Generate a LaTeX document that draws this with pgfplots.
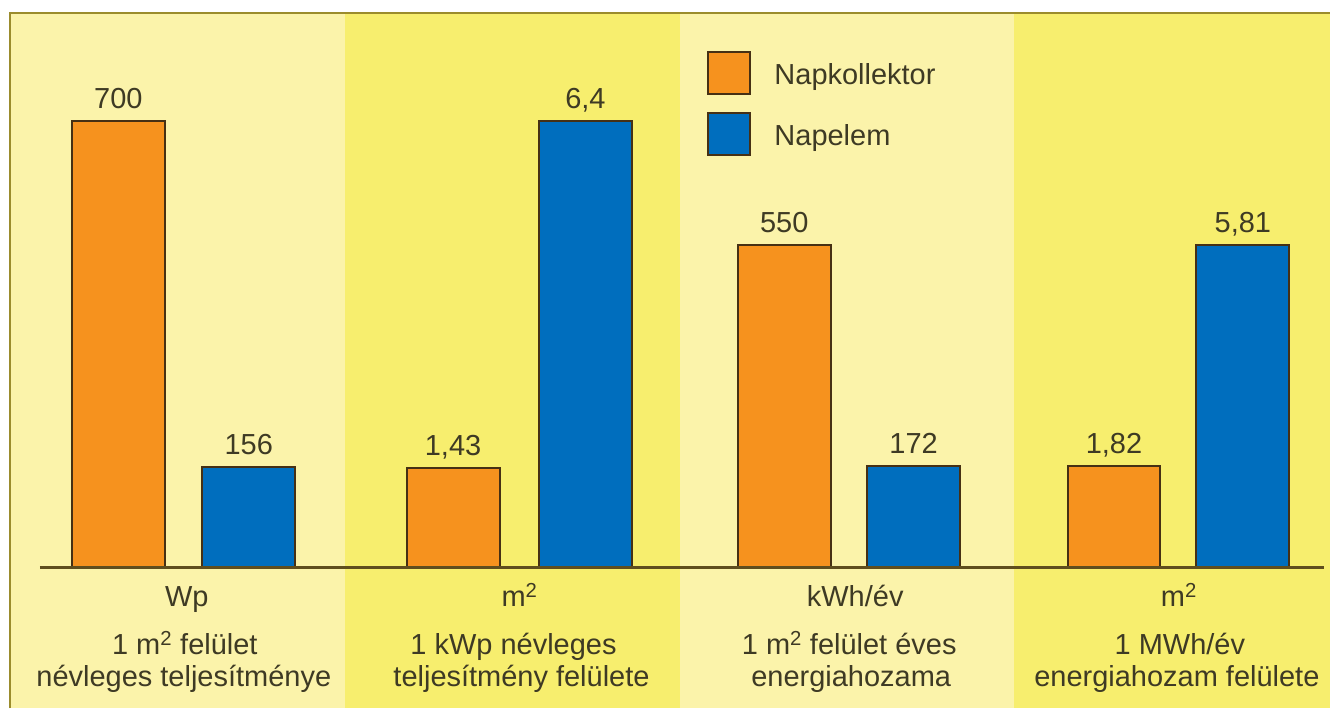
\documentclass[border=0pt]{standalone}
\usepackage{fontspec}
\setmainfont{Liberation Sans}
\usepackage{pgfplots}
\pgfplotsset{compat=1.18}
\usepackage{pgfplotstable}

\definecolor{orangeC}{RGB}{246,146,30}
\definecolor{blueC}{RGB}{0,110,190}
\definecolor{edgeC}{RGB}{70,48,20}
\definecolor{textC}{RGB}{62,58,36}
\definecolor{baseC}{RGB}{95,78,30}
\definecolor{frameC}{RGB}{155,140,45}
\definecolor{lightY}{RGB}{251,243,170}
\definecolor{brightY}{RGB}{247,238,110}

\newcommand\lbl{\fontsize{29}{34}\selectfont}

\pgfplotsset{
  sqlegend/.style={legend image code/.code={%
    \draw[#1, line width=2pt] (0pt,-19pt) rectangle (42pt,23pt);}},
}

% bar heights are drawn per group (each group has its own unit)
\pgfplotstableread{
x h lab
118.5 447 700
453.5 100 1,43
785 323 550
1115 102 1,82
}\kollektor
\pgfplotstableread{
x h lab
249 101 156
586 447 6,4
914.5 102 172
1244 323 5,81
}\napelem

\begin{document}
\begin{tikzpicture}
\begin{axis}[
  at={(0,0)}, anchor=south west,
  scale only axis, width=1331pt, height=709pt,
  xmin=0, xmax=1331, ymin=-141, ymax=568,
  hide axis, clip=false,
  ybar, bar width=93,
  point meta=explicit symbolic,
  nodes near coords={\pgfplotspointmeta},
  every node near coord/.append style={anchor=base, yshift=12pt, font=\lbl, text=textC, inner sep=0pt},
  legend style={at={(axis cs:707,517)}, anchor=north west, draw=none, fill=none,
    inner sep=0pt, row sep=17pt, font=\lbl, text=textC,
    /tikz/every odd column/.append style={column sep=22pt}},
  legend cell align=left,
]
\fill[white] (axis cs:0,-141) rectangle (axis cs:1331,568);
\fill[lightY] (axis cs:10,-141) rectangle (axis cs:345,555);
\fill[brightY] (axis cs:345,-141) rectangle (axis cs:681,555);
\fill[lightY] (axis cs:681,-141) rectangle (axis cs:1015,555);
\fill[brightY] (axis cs:1015,-141) rectangle (axis cs:1331,555);
\draw[frameC, line width=2.5pt] (axis cs:10,-141) -- (axis cs:10,555) -- (axis cs:1331,555);

\addplot[fill=orangeC, draw=edgeC, line width=2pt, bar shift=0pt, sqlegend]
  table[x=x, y=h, meta=lab] {\kollektor};
\addplot[fill=blueC, draw=edgeC, line width=2pt, bar shift=0pt, sqlegend]
  table[x=x, y=h, meta=lab] {\napelem};
\legend{Napkollektor, Napelem}

\draw[baseC, line width=3pt] (axis cs:40,0) -- (axis cs:1325,0);

\begin{scope}[every node/.style={anchor=base, font=\lbl, text=textC, inner sep=0pt}]
\node at (axis cs:187,-39) {Wp};
\node at (axis cs:185,-87) {1 m\textsuperscript{2} felület};
\node at (axis cs:184,-119) {névleges teljesítménye};
\node at (axis cs:520,-39) {m\textsuperscript{2}};
\node at (axis cs:514,-87) {1 kWp névleges};
\node at (axis cs:522,-119) {teljesítmény felülete};
\node at (axis cs:856,-39) {kWh/év};
\node at (axis cs:850,-87) {1 m\textsuperscript{2} felület éves};
\node at (axis cs:852,-119) {energiahozama};
\node at (axis cs:1180,-39) {m\textsuperscript{2}};
\node at (axis cs:1181,-87) {1 MWh/év};
\node at (axis cs:1178,-119) {energiahozam felülete};
\end{scope}
\end{axis}
\end{tikzpicture}
\end{document}
